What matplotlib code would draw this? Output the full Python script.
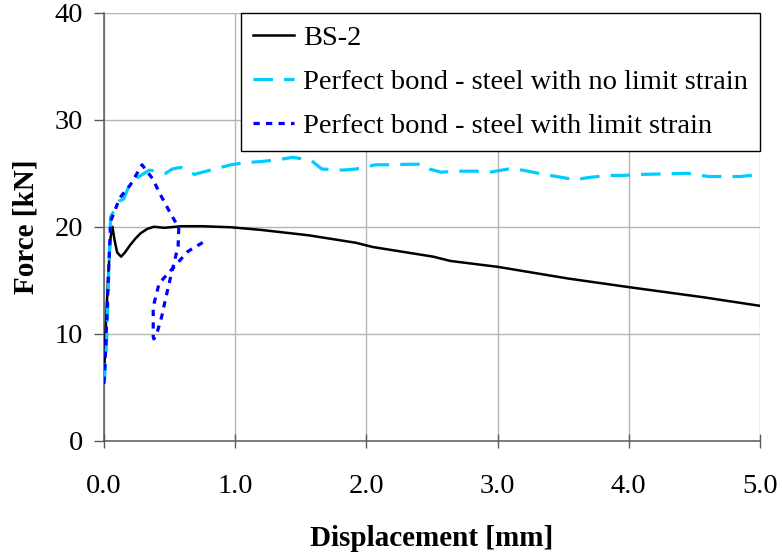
import matplotlib
matplotlib.use("Agg")
import matplotlib.pyplot as plt

# ---------------- data ----------------
bs2_disp = [0.0, 0.01, 0.03, 0.05, 0.064, 0.08, 0.10, 0.13, 0.16, 0.20, 0.24, 0.28,
            0.33, 0.38, 0.46, 0.59, 0.75, 0.97, 1.2, 1.56, 1.92, 2.05, 2.51, 2.64,
            3.0, 3.54, 4.0, 4.57, 5.0]
bs2_force = [5.4, 9.5, 15.0, 19.0, 20.0, 18.8, 17.6, 17.2, 17.6, 18.3, 18.9, 19.4,
             19.8, 20.0, 19.9, 20.05, 20.05, 19.95, 19.7, 19.2, 18.5, 18.1, 17.2, 16.8,
             16.25, 15.15, 14.35, 13.4, 12.6]

nolim_disp = [0.003, 0.02, 0.05, 0.09, 0.115, 0.15, 0.19, 0.255, 0.345, 0.445, 0.47,
              0.52, 0.585, 0.69, 0.84, 0.97, 1.07, 1.2, 1.34, 1.44, 1.58, 1.66, 1.82,
              1.92, 2.07, 2.18, 2.33, 2.43, 2.48, 2.57, 2.68, 2.83, 2.94, 3.08, 3.19,
              3.33, 3.45, 3.59, 3.69, 3.83, 3.95, 4.09, 4.29, 4.45, 4.61, 4.71, 4.85, 5.0]
nolim_force = [5.4, 9.3, 20.9, 21.8, 22.4, 22.6, 23.8, 24.6, 25.3, 25.1, 25.0,
               25.4, 25.55, 24.9, 25.4, 25.8, 26.0, 26.1, 26.3, 26.5, 26.2, 25.4, 25.3,
               25.4, 25.8, 25.8, 25.85, 25.85, 25.4, 25.1, 25.2, 25.2, 25.1, 25.4, 25.3,
               24.95, 24.7, 24.4, 24.6, 24.8, 24.8, 24.9, 24.95, 25.0, 24.7, 24.7, 24.7, 24.9]

lim_disp = [0.0, 0.013, 0.05, 0.12, 0.20, 0.29, 0.37, 0.43, 0.50, 0.57, 0.565, 0.53,
            0.50, 0.47, 0.44, 0.40, 0.38, 0.375, 0.375, 0.42, 0.64, 0.79]
lim_force = [5.4, 8.7, 20.5, 22.7, 23.9, 25.8, 24.5, 23.0, 21.4, 19.9, 18.2, 16.4,
             14.9, 13.3, 11.6, 9.9, 9.5, 9.7, 12.5, 14.7, 17.7, 18.8]

labels = ["BS-2",
          "Perfect bond - steel with no limit strain",
          "Perfect bond - steel with limit strain"]
x_ticks = [0.0, 1.0, 2.0, 3.0, 4.0, 5.0]
y_ticks = [0, 10, 20, 30, 40]

# ---------------- style ----------------
plt.rcParams["font.family"] = ["Liberation Serif", "DejaVu Serif"]
plt.rcParams["lines.scale_dashes"] = False

fig = plt.figure(figsize=(7.82, 5.57), dpi=100)
ax = fig.add_axes([104 / 782, 1 - 440.5 / 557, (760 - 104) / 782, (440.5 - 13) / 557])

ax.plot(bs2_disp, bs2_force, color="black", lw=1.8, label=labels[0], zorder=3)
ax.plot(nolim_disp, nolim_force, color="#00CCFF", lw=2.3, dashes=(14, 8),
        label=labels[1], zorder=3)
ax.plot(lim_disp, lim_force, color="#0000FF", lw=2.3, dashes=(4.5, 4.5),
        label=labels[2], zorder=4)

ax.set_xlim(0, 5)
ax.set_ylim(0, 40)
ax.set_xticks(x_ticks)
ax.set_xticklabels([f"{v:.1f}" for v in x_ticks])
ax.set_yticks(y_ticks)
ax.set_yticklabels([str(v) for v in y_ticks])

ax.grid(True, color="#b4b4b4", lw=1.0, zorder=0)
ax.set_axisbelow(True)
for s in ["top", "right"]:
    ax.spines[s].set_visible(False)
for s in ["left", "bottom"]:
    ax.spines[s].set_color("#5a5a5a")
    ax.spines[s].set_linewidth(1.1)

ax.tick_params(axis="x", direction="inout", length=10, width=1, color="#5a5a5a",
               labelsize=20.5, pad=19)
ax.tick_params(axis="y", direction="out", length=7, width=1, color="#5a5a5a",
               labelsize=20.5, pad=8)

ax.set_xlabel("Displacement [mm]", fontsize=21, fontweight="bold", labelpad=19)
ax.set_ylabel("Force [kN]", fontsize=21, fontweight="bold", labelpad=11)

leg = ax.legend(loc="upper right", bbox_to_anchor=(1.0, 1.0), borderaxespad=0,
                fontsize=20.5, frameon=True, fancybox=False, edgecolor="black",
                framealpha=1, handlelength=1.45, handletextpad=0.32,
                labelspacing=0.64, borderpad=0.42)
leg.get_frame().set_linewidth(1.0)

fig.savefig("out.png", dpi=100)
